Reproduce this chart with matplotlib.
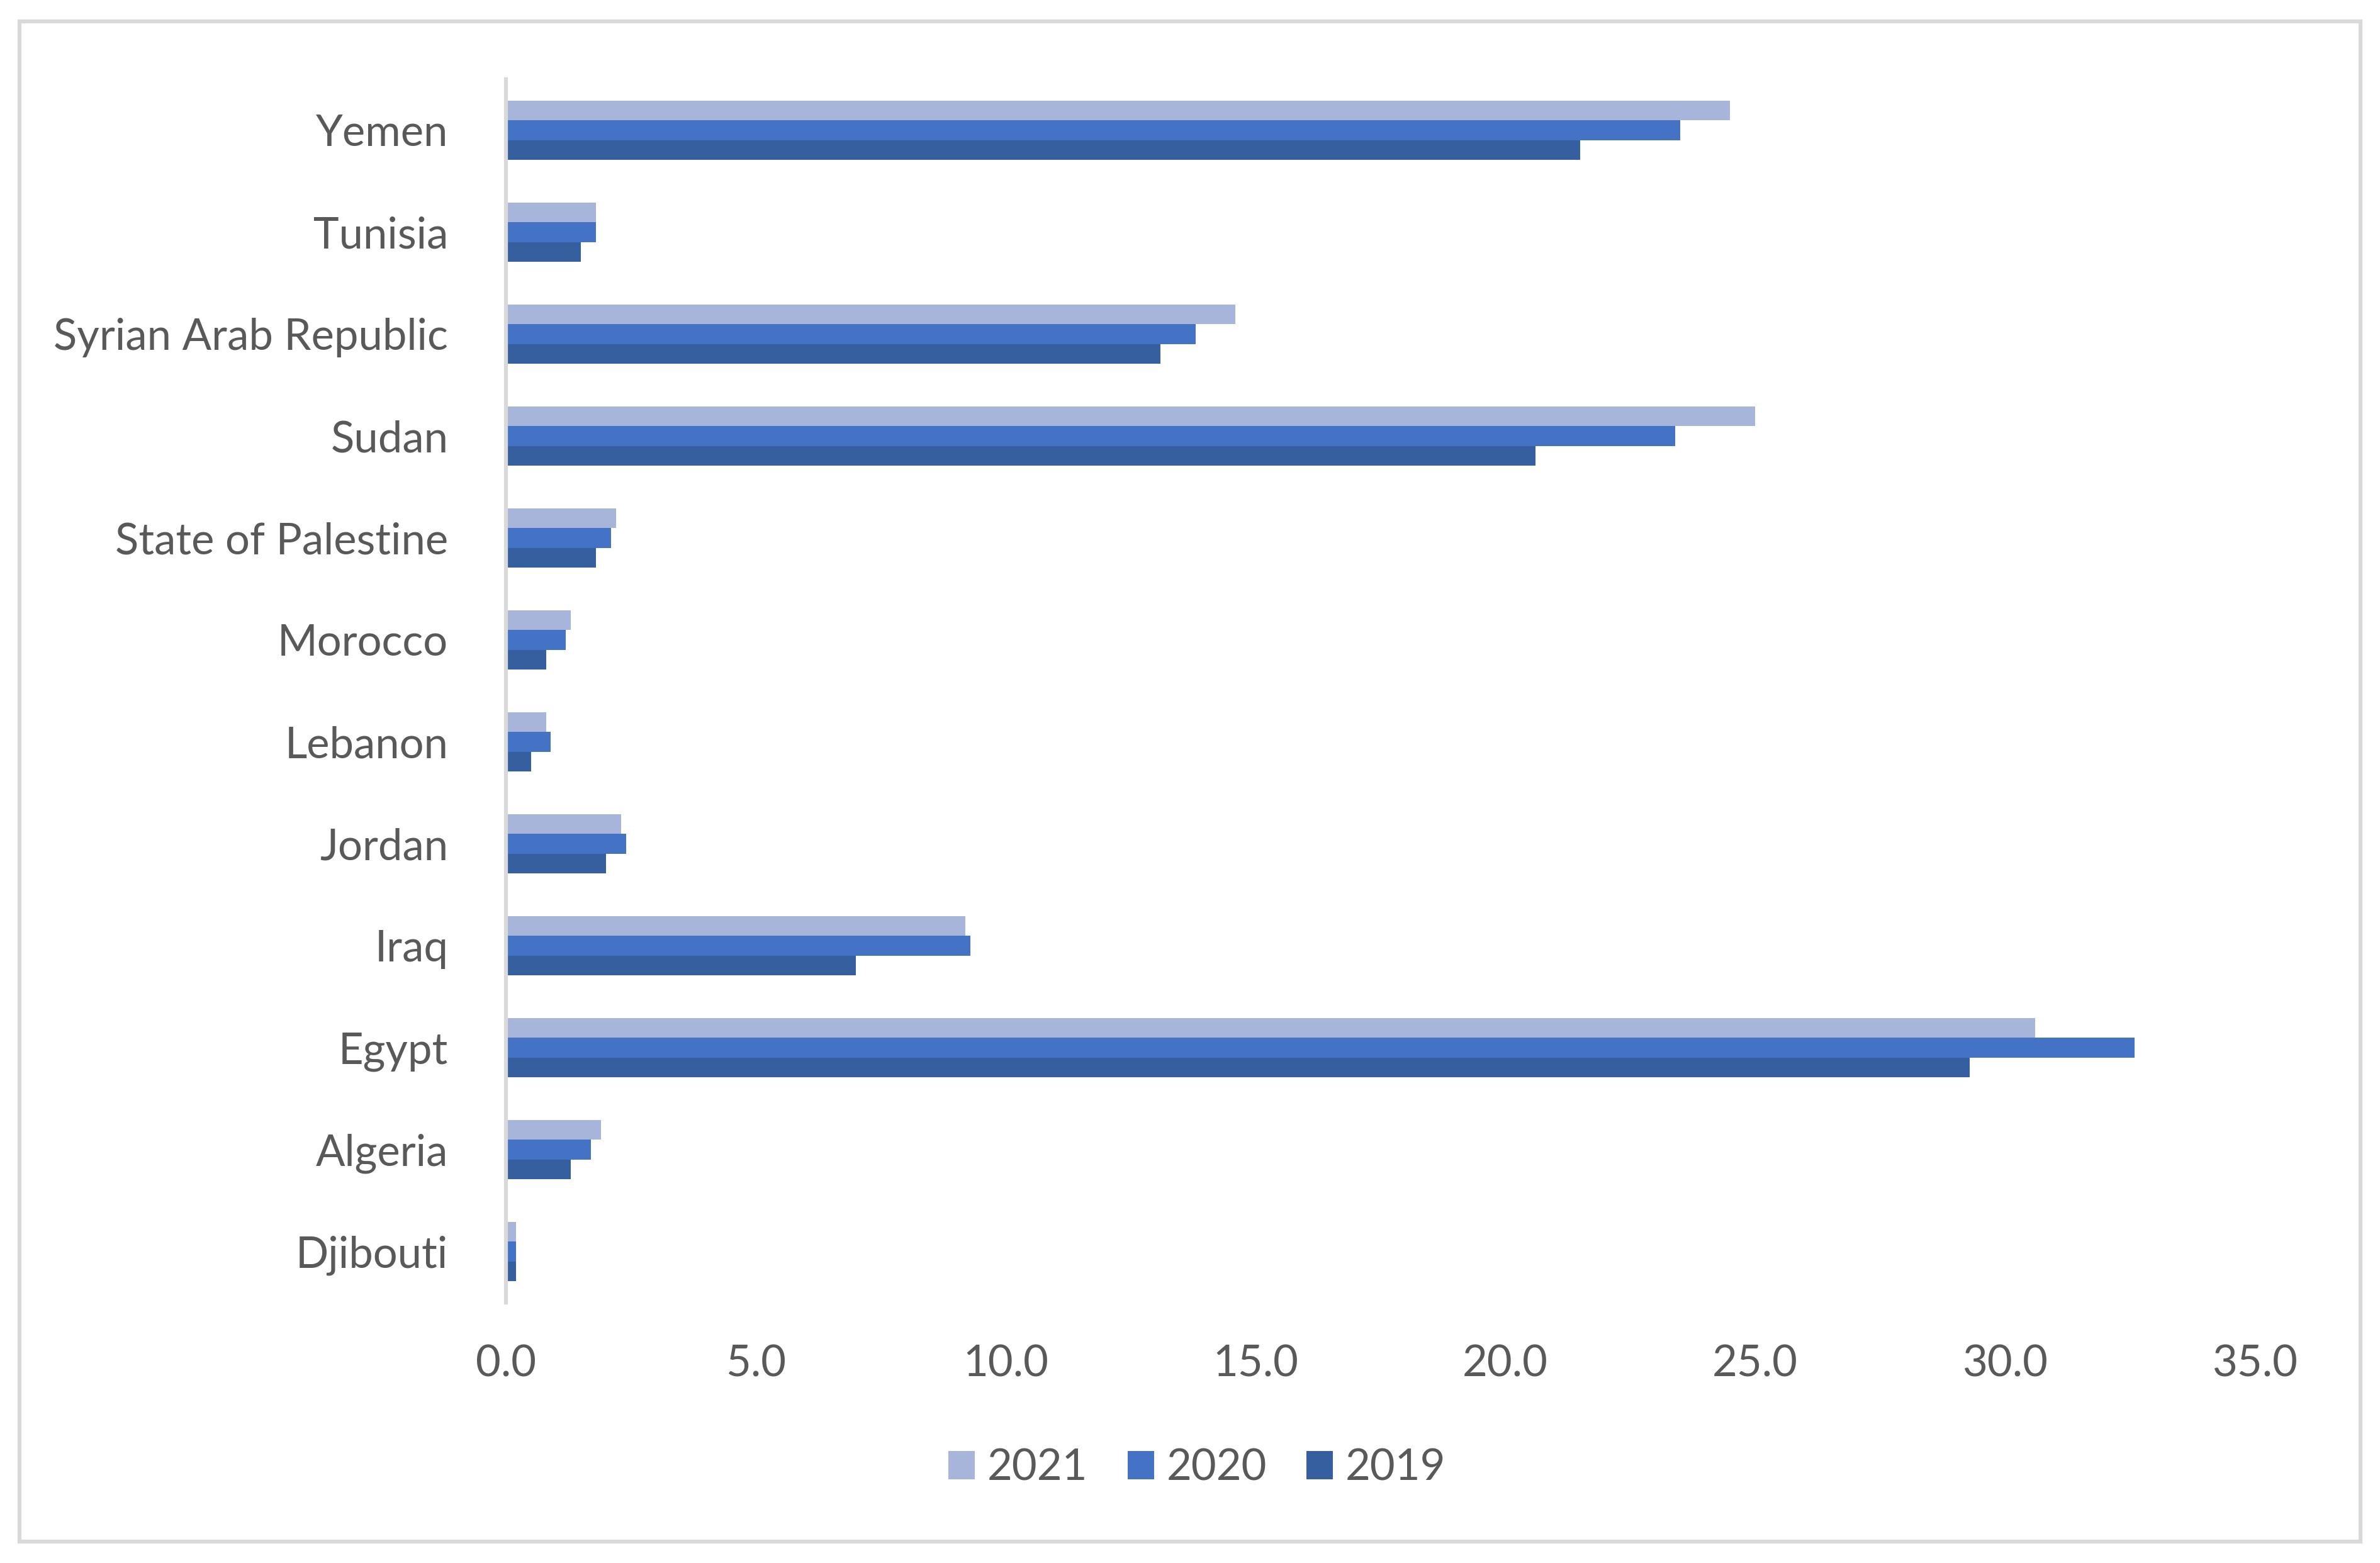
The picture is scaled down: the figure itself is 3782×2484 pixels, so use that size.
import numpy as np
import matplotlib
matplotlib.use("Agg")
import matplotlib.pyplot as plt
from matplotlib.patches import Rectangle

# Data (bottom to top, as drawn)
countries = ["Djibouti", "Algeria", "Egypt", "Iraq", "Jordan", "Lebanon",
             "Morocco", "State of Palestine", "Sudan", "Syrian Arab Republic",
             "Tunisia", "Yemen"]
vals_2019 = [0.2, 1.3, 29.3, 7.0, 2.0, 0.5, 0.8, 1.8, 20.6, 13.1, 1.5, 21.5]
vals_2020 = [0.2, 1.7, 32.6, 9.3, 2.4, 0.9, 1.2, 2.1, 23.4, 13.8, 1.8, 23.5]
vals_2021 = [0.2, 1.9, 30.6, 9.2, 2.3, 0.8, 1.3, 2.2, 25.0, 14.6, 1.8, 24.5]
years = ["2019", "2020", "2021"]
xticks = [0, 5, 10, 15, 20, 25, 30, 35]

colors = {"2019": "#365FA0", "2020": "#4472C4", "2021": "#A7B5DA"}
text_col = "#595959"
grid_col = "#D9D9D9"

plt.rcParams['font.family'] = ['Lato', 'DejaVu Sans']

fig = plt.figure(figsize=(3782 / 300, 2484 / 300), dpi=300)
ax = fig.add_axes([804 / 3782, 1 - 2070 / 2484, (3583 - 804) / 3782, (2070 - 126) / 2484])

y = np.arange(len(countries))
h = 0.194
series = {"2019": vals_2019, "2020": vals_2020, "2021": vals_2021}
bars = {}
for i, yr in enumerate(years):
    bars[yr] = ax.barh(y + (i - 1) * h, series[yr], height=h, color=colors[yr], label=yr)

ax.set_xlim(0, 35)
ax.set_ylim(-0.5, len(countries) - 0.5)
ax.set_xticks(xticks)
ax.set_xticklabels([f"{v:.1f}" for v in xticks])
ax.set_yticks(y)
ax.set_yticklabels(countries)
ax.tick_params(axis='both', length=0, labelsize=16.5, labelcolor=text_col)
ax.tick_params(axis='y', pad=22)
ax.tick_params(axis='x', pad=16)

for s in ["top", "right", "bottom"]:
    ax.spines[s].set_visible(False)
ax.spines["left"].set_color(grid_col)
ax.spines["left"].set_linewidth(1.5)

# legend shown newest first
handles = [bars["2021"], bars["2020"], bars["2019"]]
fig.legend(handles, ["2021", "2020", "2019"], loc='center', bbox_to_anchor=(0.503, 1 - 2333 / 2484),
           ncol=3, frameon=False, fontsize=16.5, labelcolor=text_col,
           handlelength=0.61, handleheight=0.63, handletextpad=0.29, columnspacing=0.92)

# chart border
fig.patches.append(Rectangle((31 / 3782, 34 / 2484), (3751 - 31) / 3782, (2450 - 34) / 2484,
                             transform=fig.transFigure, fill=False, edgecolor=grid_col, linewidth=1.5))

fig.savefig("out.png", dpi=300, facecolor="white")
